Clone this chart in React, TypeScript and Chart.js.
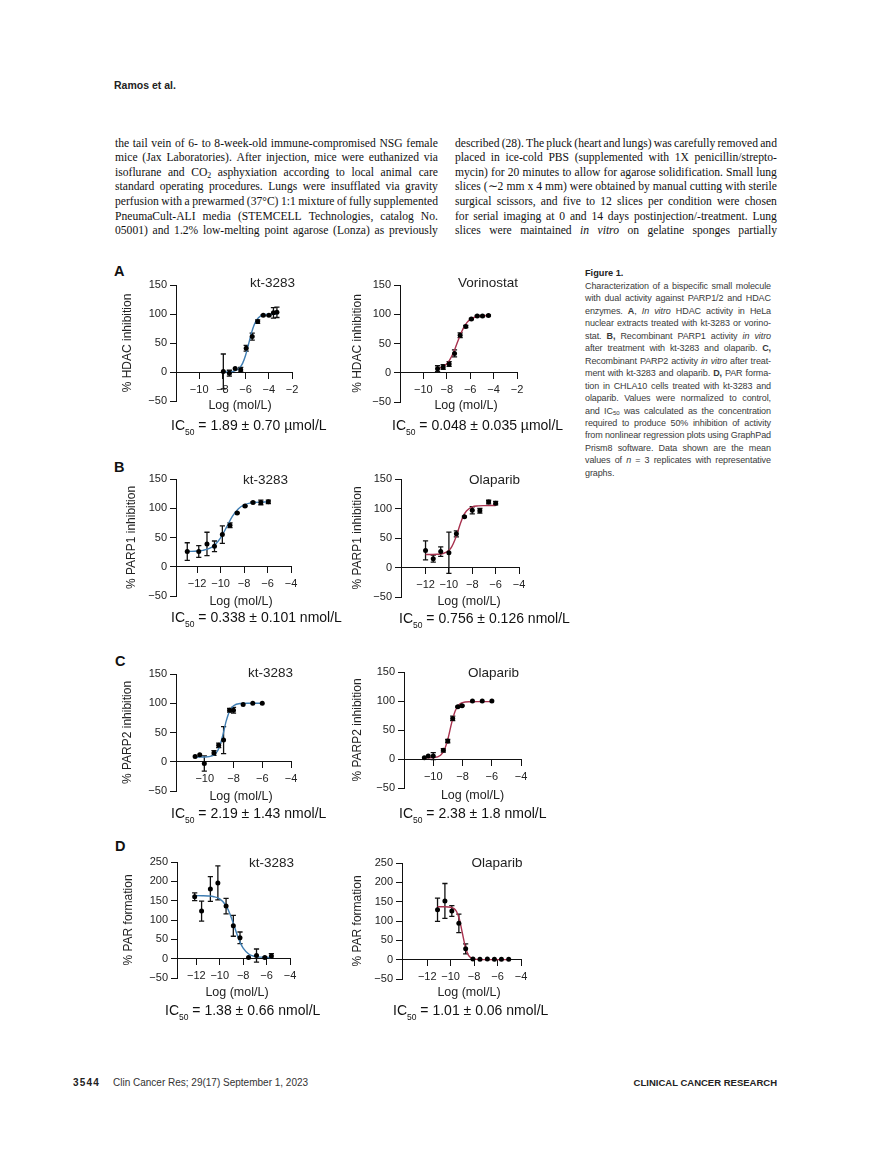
import React, { useEffect, useRef } from "react";
import { Chart, registerables } from "chart.js";
Chart.register(...registerables);

const FONT = '"Liberation Sans", Arial, Helvetica, sans-serif';
const SERIF = '"Liberation Serif", "Times New Roman", serif';
const BLUE = "#3f7db2";
const RED = "#a8324f";

// ---------- tick labels ----------
const X_TICKS_A = [-10, -8, -6, -4, -2];
const X_TICKS_B = [-12, -10, -8, -6, -4];
const X_TICKS_C = [-10, -8, -6, -4];
const X_TICKS_D = [-12, -10, -8, -6, -4];
const Y_TICKS_INHIB = [-50, 0, 50, 100, 150];
const Y_TICKS_PAR = [-50, 0, 50, 100, 150, 200, 250];

// ---------- A: HDAC inhibition ----------
const aKtLogX = [-7.92, -7.4, -6.9, -6.42, -5.95, -5.43, -4.96, -4.48, -3.99, -3.6, -3.3];
const aKtMean = [1, -2, 6, 4, 41, 61, 87, 98, 98, 102, 103];
const aKtSem = [30, 5, 0, 4, 5, 6, 3, 1, 1, 9, 9];
const aKtCurveX = [-7.92, -7.5, -7, -6.5, -6.25, -6, -5.75, -5.5, -5.25, -5, -4.75, -4.5, -4, -3.3];
const aKtCurveY = [0.1, 0.3, 1.6, 7.5, 15.3, 28.8, 47.6, 67, 82, 91, 95.8, 98.1, 99.6, 100];

const aVoLogX = [-8.79, -8.31, -7.8, -7.34, -6.86, -6.38, -5.9, -5.4, -4.95, -4.44];
const aVoMean = [7, 10, 15, 33, 64, 79, 92, 97, 97, 98];
const aVoSem = [5, 4, 4, 6, 4, 2, 1, 1, 1, 1];
const aVoCurveX = [-8.79, -8.5, -8.25, -8, -7.75, -7.5, -7.25, -7, -6.75, -6.5, -6.25, -6, -5.5, -5, -4.44];
const aVoCurveY = [6.8, 8.6, 11.2, 15.4, 22, 31.5, 43.6, 56.8, 69.3, 79.3, 86.5, 91.2, 95.7, 97.3, 97.8];

// ---------- B: PARP1 inhibition ----------
const bKtLogX = [-12.84, -11.86, -11.16, -10.52, -9.85, -9.2, -8.59, -7.92, -7.24, -6.57, -5.93];
const bKtMean = [26, 26, 39, 35, 55, 71, 92, 104, 110, 110, 111];
const bKtSem = [15, 10, 20, 9, 15, 4, 1, 1, 1, 4, 3];
const bKtCurveX = [-12.84, -12.5, -12, -11.5, -11, -10.5, -10, -9.5, -9, -8.5, -8, -7.5, -7, -6.5, -5.93];
const bKtCurveY = [26.2, 26.3, 26.8, 28, 30.8, 37.2, 49.4, 67.3, 85.9, 98.8, 105.7, 108.8, 110.1, 110.6, 110.9];

const bOlLogX = [-12.0, -11.34, -10.7, -10.0, -9.36, -8.67, -8.0, -7.35, -6.6, -6.0];
const bOlMean = [29, 15, 27, 25, 57, 86, 97, 96, 111, 109];
const bOlSem = [16, 6, 8, 35, 5, 1, 6, 4, 3, 3];
const bOlCurveX = [-12, -11.5, -11, -10.5, -10, -9.75, -9.5, -9.25, -9, -8.75, -8.5, -8, -7.5, -7, -6];
const bOlCurveY = [22, 22.1, 22.4, 23.7, 28.9, 35.4, 46.1, 60.4, 75.5, 87.9, 95.9, 102.8, 104.5, 104.9, 105];

// ---------- C: PARP2 inhibition ----------
const cKtLogX = [-10.67, -10.35, -10.03, -9.36, -9.03, -8.69, -8.27, -8.0, -7.33, -6.66, -6.0];
const cKtMean = [9, 12, -3, 15, 28, 37, 88, 88, 98, 100, 100];
const cKtSem = [0, 0, 13, 4, 4, 23, 3, 5, 0, 0, 0];
const cKtCurveX = [-10.67, -10, -9.5, -9.25, -9, -8.75, -8.5, -8.25, -8, -7.5, -7, -6];
const cKtCurveY = [8, 8.2, 9.9, 13.7, 23.9, 44.6, 70.2, 87.9, 95.8, 99.6, 100, 100];

const cOlLogX = [-10.61, -10.34, -10.0, -9.31, -9.01, -8.67, -8.32, -8.03, -7.32, -6.65, -5.99];
const cOlMean = [2, 5, 5, 15, 31, 70, 90, 92, 100, 100, 100];
const cOlSem = [0, 0, 6, 3, 3, 4, 1, 1, 0, 0, 0];
const cOlCurveX = [-10.61, -10, -9.5, -9.25, -9, -8.75, -8.5, -8.25, -8, -7.5, -7, -6];
const cOlCurveY = [2, 2.5, 6.6, 15.3, 34.3, 61.5, 82.8, 93.3, 97.1, 98.8, 99, 99];

// ---------- D: PAR formation ----------
const dKtLogX = [-12.14, -11.55, -10.8, -10.16, -9.46, -8.84, -8.27, -7.54, -6.86, -6.15, -5.59];
const dKtMean = [160, 123, 180, 196, 136, 85, 54, 3, 8, 3, 7];
const dKtSem = [10, 26, 32, 44, 20, 27, 15, 0, 17, 1, 6];
const dKtCurveX = [-12.14, -11.5, -11, -10.5, -10, -9.5, -9.25, -9, -8.75, -8.5, -8.25, -8, -7.5, -7, -6.5, -6, -5.59];
const dKtCurveY = [163, 162.7, 162.1, 160.2, 154.5, 138.8, 124.6, 105.4, 83, 60.6, 41.5, 27.2, 11.5, 5.8, 3.9, 3.3, 3.1];

const dOlLogX = [-11.12, -10.49, -9.9, -9.3, -8.72, -8.1, -7.5, -6.87, -6.27, -5.67, -5.05];
const dOlMean = [129, 152, 126, 94, 28, 2, 1, 2, 1, 1, 1];
const dOlSem = [30, 45, 14, 24, 13, 0, 0, 0, 0, 0, 0];
const dOlCurveX = [-11.12, -10.5, -10, -9.75, -9.5, -9.25, -9, -8.75, -8.5, -8.25, -8, -7.5, -7, -5.05];
const dOlCurveY = [137, 136.9, 135.6, 132.8, 124.5, 104.1, 68.5, 32.9, 12.5, 4.2, 1.4, 0.1, 0, 0];

// ---------- text ----------
const LEFT_COL = [
  "the tail vein of 6- to 8-week-old immune-compromised NSG female",
  "mice (Jax Laboratories). After injection, mice were euthanized via",
  "isoflurane and CO_{2} asphyxiation according to local animal care",
  "standard operating procedures. Lungs were insufflated via gravity",
  "perfusion with a prewarmed (37°C) 1:1 mixture of fully supplemented",
  "PneumaCult-ALI media (STEMCELL Technologies, catalog No.",
  "05001) and 1.2% low-melting point agarose (Lonza) as previously",
];
const RIGHT_COL = [
  "described (28). The pluck (heart and lungs) was carefully removed and",
  "placed in ice-cold PBS (supplemented with 1X penicillin/strepto-",
  "mycin) for 20 minutes to allow for agarose solidification. Small lung",
  "slices (∼2 mm x 4 mm) were obtained by manual cutting with sterile",
  "surgical scissors, and five to 12 slices per condition were chosen",
  "for serial imaging at 0 and 14 days postinjection/-treatment. Lung",
  "slices were maintained *in* *vitro* on gelatine sponges partially",
];
const CAPTION = [
  "Characterization of a bispecific small molecule",
  "with dual activity against PARP1/2 and HDAC",
  "enzymes. **A**, *In* *vitro* HDAC activity in HeLa",
  "nuclear extracts treated with kt-3283 or vorino-",
  "stat. **B,** Recombinant PARP1 activity *in* *vitro*",
  "after treatment with kt-3283 and olaparib. **C,**",
  "Recombinant PARP2 activity *in* *vitro* after treat-",
  "ment with kt-3283 and olaparib. **D,** PAR forma-",
  "tion in CHLA10 cells treated with kt-3283 and",
  "olaparib. Values were normalized to control,",
  "and IC_{50} was calculated as the concentration",
  "required to produce 50% inhibition of activity",
  "from nonlinear regression plots using GraphPad",
  "Prism8 software. Data shown are the mean",
  "values of *n* = 3 replicates with representative",
];
const CAPTION_LAST = "graphs.";

type Panel = {
  id: string;
  axisX: number; top: number; w: number; h: number;
  xMin: number; xMax: number; xTicks: number[];
  yMin: number; yMax: number; yTicks: number[];
  yTitle: string; tPad: number; color: string;
  xs: number[]; ys: number[]; err: number[]; cx: number[]; cy: number[];
  title: string; titleRight: number; titleY: number;
  xTitleX: number; xTitleY: number;
  ic: string; icX: number; icY: number;
};

const PANELS: Panel[] = [
  { id: "aKt", axisX: 176, top: 285, w: 116, h: 116, xMin: -12, xMax: -2, xTicks: X_TICKS_A, yMin: -50, yMax: 150, yTicks: Y_TICKS_INHIB, yTitle: "% HDAC inhibition", tPad: 0.8, color: BLUE, xs: aKtLogX, ys: aKtMean, err: aKtSem, cx: aKtCurveX, cy: aKtCurveY, title: "kt-3283", titleRight: 295, titleY: 282.5, xTitleX: 240, xTitleY: 405, ic: "1.89 ± 0.70 µmol/L", icX: 171, icY: 425 },
  { id: "aVo", axisX: 400, top: 285, w: 117, h: 117, xMin: -12, xMax: -2, xTicks: X_TICKS_A, yMin: -50, yMax: 150, yTicks: Y_TICKS_INHIB, yTitle: "% HDAC inhibition", tPad: 6.8, color: RED, xs: aVoLogX, ys: aVoMean, err: aVoSem, cx: aVoCurveX, cy: aVoCurveY, title: "Vorinostat", titleRight: 518, titleY: 283, xTitleX: 466, xTitleY: 405, ic: "0.048 ± 0.035 µmol/L", icX: 392, icY: 425 },
  { id: "bKt", axisX: 176, top: 479, w: 115, h: 117, xMin: -13.8, xMax: -4, xTicks: X_TICKS_B, yMin: -50, yMax: 150, yTicks: Y_TICKS_INHIB, yTitle: "% PARP1 inhibition", tPad: 4.5, color: BLUE, xs: bKtLogX, ys: bKtMean, err: bKtSem, cx: bKtCurveX, cy: bKtCurveY, title: "kt-3283", titleRight: 288, titleY: 480, xTitleX: 241, xTitleY: 601, ic: "0.338 ± 0.101 nmol/L", icX: 171, icY: 617 },
  { id: "bOl", axisX: 401, top: 479, w: 118, h: 118, xMin: -14.1, xMax: -4, xTicks: X_TICKS_B, yMin: -50, yMax: 150, yTicks: Y_TICKS_INHIB, yTitle: "% PARP1 inhibition", tPad: 5.8, color: RED, xs: bOlLogX, ys: bOlMean, err: bOlSem, cx: bOlCurveX, cy: bOlCurveY, title: "Olaparib", titleRight: 520, titleY: 480, xTitleX: 469, xTitleY: 601, ic: "0.756 ± 0.126 nmol/L", icX: 399, icY: 618 },
  { id: "cKt", axisX: 176, top: 674, w: 115, h: 117, xMin: -12, xMax: -4, xTicks: X_TICKS_C, yMin: -50, yMax: 150, yTicks: Y_TICKS_INHIB, yTitle: "% PARP2 inhibition", tPad: 0.8, color: BLUE, xs: cKtLogX, ys: cKtMean, err: cKtSem, cx: cKtCurveX, cy: cKtCurveY, title: "kt-3283", titleRight: 293, titleY: 673, xTitleX: 241, xTitleY: 796, ic: "2.19 ± 1.43 nmol/L", icX: 171, icY: 813 },
  { id: "cOl", axisX: 404, top: 672, w: 117, h: 116, xMin: -12, xMax: -4, xTicks: X_TICKS_C, yMin: -50, yMax: 150, yTicks: Y_TICKS_INHIB, yTitle: "% PARP2 inhibition", tPad: 2.8, color: RED, xs: cOlLogX, ys: cOlMean, err: cOlSem, cx: cOlCurveX, cy: cOlCurveY, title: "Olaparib", titleRight: 519, titleY: 673, xTitleX: 472.5, xTitleY: 795, ic: "2.38 ± 1.8 nmol/L", icX: 399, icY: 813 },
  { id: "dKt", axisX: 177, top: 862, w: 113, h: 116, xMin: -13.65, xMax: -4, xTicks: X_TICKS_D, yMin: -50, yMax: 250, yTicks: Y_TICKS_PAR, yTitle: "% PAR formation", tPad: 0, color: BLUE, xs: dKtLogX, ys: dKtMean, err: dKtSem, cx: dKtCurveX, cy: dKtCurveY, title: "kt-3283", titleRight: 294, titleY: 863, xTitleX: 237, xTitleY: 992, ic: "1.38 ± 0.66 nmol/L", icX: 165, icY: 1010 },
  { id: "dOl", axisX: 402, top: 863, w: 119, h: 116, xMin: -14.15, xMax: -4, xTicks: X_TICKS_D, yMin: -50, yMax: 250, yTicks: Y_TICKS_PAR, yTitle: "% PAR formation", tPad: 4.5, color: RED, xs: dOlLogX, ys: dOlMean, err: dOlSem, cx: dOlCurveX, cy: dOlCurveY, title: "Olaparib", titleRight: 522.5, titleY: 863, xTitleX: 469, xTitleY: 992, ic: "1.01 ± 0.06 nmol/L", icX: 393, icY: 1010 },
];

const LETTERS = [
  { t: "A", x: 114, y: 271 },
  { t: "B", x: 114, y: 467 },
  { t: "C", x: 115, y: 661 },
  { t: "D", x: 115, y: 846 },
];

const fmtTick = (v: number) => (v < 0 ? "\u2212" + Math.abs(v) : String(v));

const PAD_L = 4, YW = 56, PAD_T = 10, PAD_R = 16, PAD_B = 10;

function PanelChart({ p }: { p: Panel }) {
  const ref = useRef<HTMLCanvasElement>(null);
  useEffect(() => {
    const errPlugin = {
      id: "errbars_" + p.id,
      beforeDatasetsDraw(chart: any) {
        const { ctx } = chart;
        const xs = chart.scales.x;
        const ys = chart.scales.y;
        ctx.save();
        ctx.strokeStyle = "#111";
        ctx.lineWidth = 1.3;
        p.xs.forEach((xv, i) => {
          const e = p.err[i];
          if (!e) return;
          const px = xs.getPixelForValue(xv);
          const y1 = ys.getPixelForValue(p.ys[i] + e);
          const y2 = ys.getPixelForValue(p.ys[i] - e);
          ctx.beginPath();
          ctx.moveTo(px, y1);
          ctx.lineTo(px, y2);
          ctx.moveTo(px - 2.6, y1);
          ctx.lineTo(px + 2.6, y1);
          ctx.moveTo(px - 2.6, y2);
          ctx.lineTo(px + 2.6, y2);
          ctx.stroke();
        });
        ctx.restore();
      },
    };
    const tickFont = { family: FONT, size: 11 };
    const chart = new Chart(ref.current as HTMLCanvasElement, {
      type: "scatter",
      data: {
        datasets: [
          {
            data: p.xs.map((x, i) => ({ x, y: p.ys[i] })),
            pointRadius: 2.5,
            pointBackgroundColor: "#000",
            pointBorderWidth: 0,
            order: 0,
          } as any,
          {
            data: p.cx.map((x, i) => ({ x, y: p.cy[i] })),
            showLine: true,
            borderColor: p.color,
            borderWidth: 1.4,
            pointRadius: 0,
            cubicInterpolationMode: "monotone",
            order: 1,
          } as any,
        ],
      },
      options: {
        responsive: false,
        animation: false,
        devicePixelRatio: 1,
        layout: { padding: { left: PAD_L, top: PAD_T, right: PAD_R, bottom: PAD_B } },
        plugins: { legend: { display: false }, tooltip: { enabled: false } },
        scales: {
          x: {
            type: "linear",
            min: p.xMin,
            max: p.xMax,
            position: { y: 0 } as any,
            afterBuildTicks: (s: any) => {
              s.ticks = p.xTicks.map((v) => ({ value: v }));
            },
            ticks: {
              autoSkip: false,
              maxRotation: 0,
              minRotation: 0,
              padding: 5,
              color: "#222",
              font: tickFont,
              callback: (v: any) => fmtTick(Number(v)),
            },
            grid: { drawOnChartArea: false, drawTicks: true, tickLength: 6, tickColor: "#111", tickWidth: 1 },
            border: { display: true, color: "#111", width: 1 },
          },
          y: {
            type: "linear",
            position: "left",
            min: p.yMin,
            max: p.yMax,
            afterBuildTicks: (s: any) => {
              s.ticks = p.yTicks.map((v) => ({ value: v }));
            },
            afterFit: (s: any) => {
              s.width = YW;
            },
            ticks: {
              autoSkip: false,
              padding: 3,
              color: "#222",
              font: tickFont,
              callback: (v: any) => fmtTick(Number(v)),
            },
            grid: { drawOnChartArea: false, drawTicks: true, tickLength: 6, tickColor: "#111", tickWidth: 1 },
            border: { display: true, color: "#111", width: 1 },
            title: {
              display: true,
              text: p.yTitle,
              color: "#222",
              font: { family: FONT, size: 12 },
              padding: { top: p.tPad, bottom: 0 },
            },
          },
        },
      } as any,
      plugins: [errPlugin],
    });
    return () => chart.destroy();
  }, [p]);

  const cw = PAD_L + YW + p.w + PAD_R;
  const ch = PAD_T + p.h + PAD_B;
  return (
    <canvas
      ref={ref}
      width={cw}
      height={ch}
      style={{ position: "absolute", left: p.axisX - PAD_L - YW, top: p.top - PAD_T, width: cw, height: ch }}
    />
  );
}

function renderWord(w: string, key: number) {
  const parts = w.split(/(\*\*[^*]+\*\*|\*[^*]+\*|_\{[^}]+\})/).filter(Boolean);
  return (
    <span key={key}>
      {parts.map((s, i) => {
        if (s.startsWith("**")) return <b key={i}>{s.slice(2, -2)}</b>;
        if (s.startsWith("*")) return <i key={i}>{s.slice(1, -1)}</i>;
        if (s.startsWith("_{"))
          return (
            <span key={i} style={{ fontSize: "0.68em", position: "relative", top: "0.3em" }}>
              {s.slice(2, -1)}
            </span>
          );
        return <React.Fragment key={i}>{s}</React.Fragment>;
      })}
    </span>
  );
}

function JustLine({ text, left, top, width, style }: { text: string; left: number; top: number; width: number; style: React.CSSProperties }) {
  const words = text.split(" ");
  return (
    <div
      style={{
        position: "absolute",
        left,
        top,
        width,
        display: "flex",
        justifyContent: "space-between",
        whiteSpace: "nowrap",
        ...style,
      }}
    >
      {words.map((w, i) => renderWord(w, i))}
    </div>
  );
}

const abs = (left: number, top: number, extra: React.CSSProperties = {}): React.CSSProperties => ({
  position: "absolute",
  left,
  top,
  whiteSpace: "nowrap",
  ...extra,
});

export default function App() {
  const bodyStyle: React.CSSProperties = { fontFamily: SERIF, fontSize: 11.6, lineHeight: "14px", color: "#111" };
  const capStyle: React.CSSProperties = { fontFamily: FONT, fontSize: 9, letterSpacing: "-0.1px", lineHeight: "12px", color: "#3a3a3a" };
  return (
    <div
      style={{
        position: "absolute",
        left: 0,
        top: 0,
        width: 892,
        height: 1167,
        background: "#fff",
        overflow: "hidden",
        fontFamily: FONT,
      }}
    >
      <div style={abs(114, 79, { fontFamily: FONT, fontWeight: "bold", fontSize: 10.5, lineHeight: "13px", color: "#222" })}>Ramos et al.</div>

      {LEFT_COL.map((t, i) => (
        <JustLine key={"l" + i} text={t} left={115} top={145 + i * 14.6 - 8.4} width={323} style={bodyStyle} />
      ))}
      {RIGHT_COL.map((t, i) => (
        <JustLine key={"r" + i} text={t} left={455} top={145 + i * 14.6 - 8.4} width={322} style={bodyStyle} />
      ))}

      <div style={abs(585, 267, { fontFamily: FONT, fontWeight: "bold", fontSize: 9.2, lineHeight: "12px", color: "#222" })}>Figure 1.</div>
      {CAPTION.map((t, i) => (
        <JustLine key={"c" + i} text={t} left={585} top={286.7 + i * 12.47 - 6.9} width={186} style={capStyle} />
      ))}
      <div style={{ ...abs(585, 286.7 + CAPTION.length * 12.47 - 6.9), ...capStyle }}>{CAPTION_LAST}</div>

      {LETTERS.map((l) => (
        <div key={l.t} style={abs(l.x, l.y - 8, { fontWeight: "bold", fontSize: 14.5, lineHeight: "16px", color: "#111" })}>
          {l.t}
        </div>
      ))}

      {PANELS.map((p) => (
        <React.Fragment key={p.id}>
          <PanelChart p={p} />
          <div style={abs(p.titleRight - 120, p.titleY - 8, { width: 120, textAlign: "right", fontSize: 13.5, lineHeight: "16px", color: "#222" })}>{p.title}</div>
          <div style={abs(p.xTitleX - 60, p.xTitleY - 8, { width: 120, textAlign: "center", fontSize: 12.5, lineHeight: "16px", color: "#222" })}>Log (mol/L)</div>
          <div style={abs(p.icX, p.icY - 9, { fontSize: 14, lineHeight: "18px", color: "#111" })}>
            IC<span style={{ fontSize: 8.5, position: "relative", top: 5 }}>50</span> = {p.ic}
          </div>
        </React.Fragment>
      ))}

      <div style={abs(73, 1077, { fontWeight: "bold", fontSize: 10, letterSpacing: "1.2px", lineHeight: "12px", color: "#222" })}>3544</div>
      <div style={abs(113, 1077, { fontSize: 10, lineHeight: "12px", color: "#333" })}>Clin Cancer Res; 29(17) September 1, 2023</div>
      <div style={abs(577, 1077, { width: 200, textAlign: "right", fontWeight: "bold", fontSize: 9.5, lineHeight: "12px", color: "#222" })}>CLINICAL CANCER RESEARCH</div>
    </div>
  );
}
